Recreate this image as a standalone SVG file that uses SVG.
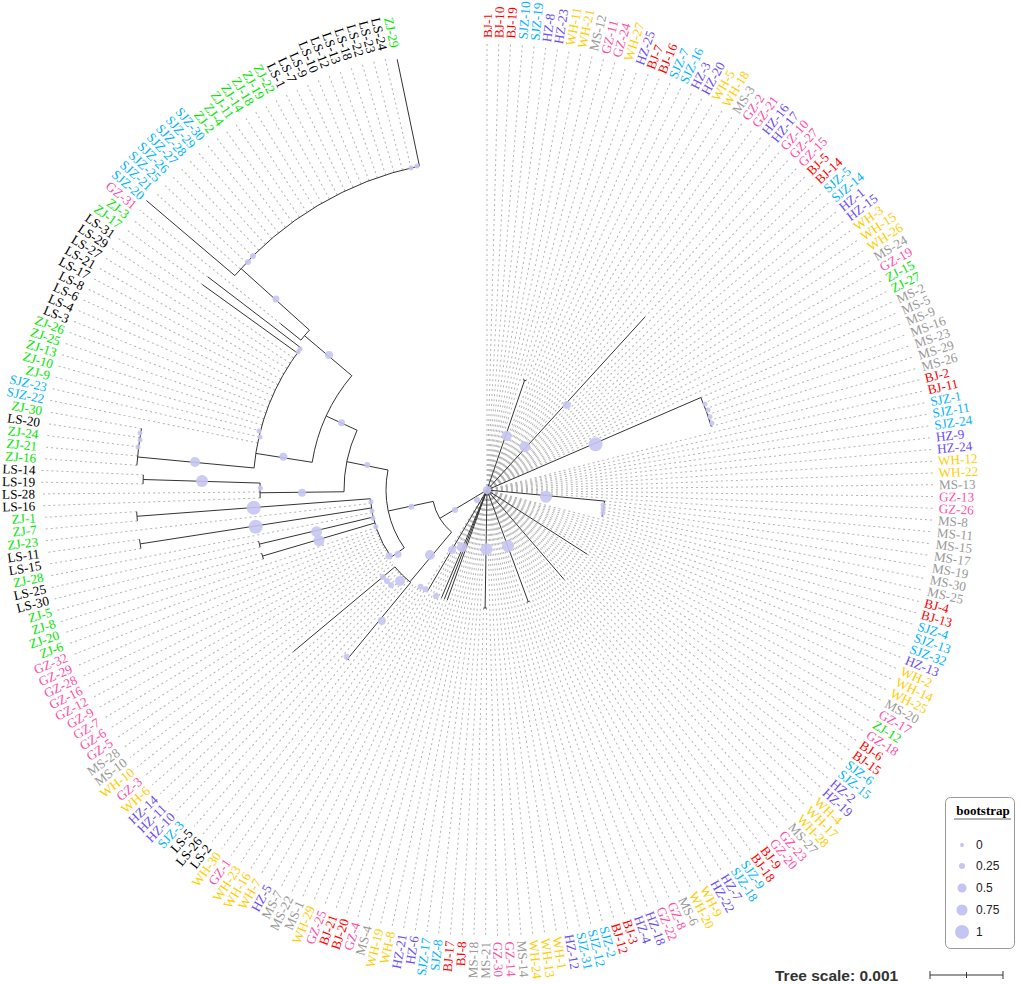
<svg xmlns="http://www.w3.org/2000/svg" width="1021" height="984" viewBox="0 0 1021 984">
<style>
text{font-family:"Liberation Serif","Times New Roman",serif;font-size:13.2px;dominant-baseline:central}
.l{text-anchor:end}
.bj{fill:#ff0000}.sjz{fill:#00b4ff}.hz{fill:#6b4cf6}.wh{fill:#ffcc00}.ms{fill:#999999}.gz{fill:#ff4fa7}.zj{fill:#00e600}.ls{fill:#000000}
#dash line{stroke:#b4b4b4;stroke-width:1;stroke-dasharray:2 3}
#tree path{stroke:#333;stroke-width:1;fill:none}
#bootstrap circle{fill:#c5c5f3;fill-opacity:.9}
.lg{font-family:"Liberation Sans",Arial,sans-serif;font-size:12px;fill:#222;dominant-baseline:central}
</style>
<rect width="1021" height="984" fill="#fff"/>
<g id="connectors">
<g id="dash" transform="translate(487 490)">
<line x1="4" x2="446" transform="rotate(-90)"/><line x1="4" x2="446" transform="rotate(-88.486)"/><line x1="4" x2="446" transform="rotate(-86.972)"/><line x1="4" x2="446" transform="rotate(-85.458)"/><line x1="4" x2="446" transform="rotate(-83.944)"/><line x1="4" x2="446" transform="rotate(-82.43)"/><line x1="4" x2="446" transform="rotate(-80.916)"/><line x1="4" x2="446" transform="rotate(-79.402)"/><line x1="4" x2="446" transform="rotate(-77.888)"/><line x1="4" x2="446" transform="rotate(-76.374)"/><line x1="4" x2="446" transform="rotate(-74.86)"/><line x1="4" x2="446" transform="rotate(-73.346)"/>
<line x1="116" x2="446" transform="rotate(-71.832)"/><line x1="116" x2="446" transform="rotate(-70.318)"/>
<line x1="4" x2="446" transform="rotate(-68.804)"/><line x1="4" x2="446" transform="rotate(-67.29)"/><line x1="4" x2="446" transform="rotate(-65.776)"/><line x1="4" x2="446" transform="rotate(-64.262)"/><line x1="4" x2="446" transform="rotate(-62.748)"/><line x1="4" x2="446" transform="rotate(-61.234)"/><line x1="4" x2="446" transform="rotate(-59.72)"/><line x1="4" x2="446" transform="rotate(-58.206)"/><line x1="4" x2="446" transform="rotate(-56.692)"/><line x1="4" x2="446" transform="rotate(-55.178)"/><line x1="4" x2="446" transform="rotate(-53.664)"/><line x1="4" x2="446" transform="rotate(-52.15)"/><line x1="4" x2="446" transform="rotate(-50.636)"/><line x1="4" x2="446" transform="rotate(-49.122)"/>
<line x1="234" x2="446" transform="rotate(-47.608)"/>
<line x1="4" x2="446" transform="rotate(-46.094)"/><line x1="4" x2="446" transform="rotate(-44.58)"/><line x1="4" x2="446" transform="rotate(-43.066)"/><line x1="4" x2="446" transform="rotate(-41.552)"/><line x1="4" x2="446" transform="rotate(-40.038)"/><line x1="4" x2="446" transform="rotate(-38.524)"/><line x1="4" x2="446" transform="rotate(-37.01)"/><line x1="4" x2="446" transform="rotate(-35.496)"/><line x1="4" x2="446" transform="rotate(-33.982)"/><line x1="4" x2="446" transform="rotate(-32.468)"/><line x1="4" x2="446" transform="rotate(-30.954)"/><line x1="4" x2="446" transform="rotate(-29.44)"/><line x1="4" x2="446" transform="rotate(-27.926)"/><line x1="4" x2="446" transform="rotate(-26.412)"/><line x1="4" x2="446" transform="rotate(-24.898)"/>
<line x1="233" x2="446" transform="rotate(-23.384)"/><line x1="233" x2="446" transform="rotate(-21.87)"/><line x1="233" x2="446" transform="rotate(-20.356)"/><line x1="233" x2="446" transform="rotate(-18.842)"/><line x1="233" x2="446" transform="rotate(-17.328)"/><line x1="233" x2="446" transform="rotate(-15.814)"/>
<line x1="4" x2="446" transform="rotate(-14.3)"/><line x1="4" x2="446" transform="rotate(-12.786)"/><line x1="4" x2="446" transform="rotate(-11.272)"/><line x1="4" x2="446" transform="rotate(-9.758)"/><line x1="4" x2="446" transform="rotate(-8.244)"/><line x1="4" x2="446" transform="rotate(-6.73)"/><line x1="4" x2="446" transform="rotate(-5.216)"/><line x1="4" x2="446" transform="rotate(-3.702)"/><line x1="4" x2="446" transform="rotate(-2.188)"/><line x1="4" x2="446" transform="rotate(-0.674)"/><line x1="4" x2="446" transform="rotate(0.84)"/><line x1="4" x2="446" transform="rotate(2.354)"/><line x1="4" x2="446" transform="rotate(3.868)"/>
<line x1="118" x2="446" transform="rotate(5.382)"/><line x1="118" x2="446" transform="rotate(6.896)"/><line x1="118" x2="446" transform="rotate(8.41)"/><line x1="118" x2="446" transform="rotate(9.924)"/><line x1="118" x2="446" transform="rotate(11.438)"/><line x1="118" x2="446" transform="rotate(12.952)"/>
<line x1="4" x2="446" transform="rotate(14.466)"/><line x1="4" x2="446" transform="rotate(15.98)"/><line x1="4" x2="446" transform="rotate(17.494)"/><line x1="4" x2="446" transform="rotate(19.008)"/><line x1="4" x2="446" transform="rotate(20.522)"/><line x1="4" x2="446" transform="rotate(22.036)"/><line x1="4" x2="446" transform="rotate(23.55)"/><line x1="4" x2="446" transform="rotate(25.064)"/><line x1="4" x2="446" transform="rotate(26.578)"/><line x1="4" x2="446" transform="rotate(28.092)"/><line x1="4" x2="446" transform="rotate(29.606)"/><line x1="4" x2="446" transform="rotate(31.12)"/>
<line x1="119" x2="446" transform="rotate(32.634)"/>
<line x1="4" x2="446" transform="rotate(34.148)"/><line x1="4" x2="446" transform="rotate(35.662)"/><line x1="4" x2="446" transform="rotate(37.176)"/><line x1="4" x2="446" transform="rotate(38.69)"/><line x1="4" x2="446" transform="rotate(40.204)"/><line x1="4" x2="446" transform="rotate(41.718)"/><line x1="4" x2="446" transform="rotate(43.232)"/><line x1="4" x2="446" transform="rotate(44.746)"/><line x1="4" x2="446" transform="rotate(46.26)"/><line x1="4" x2="446" transform="rotate(47.774)"/>
<line x1="118" x2="446" transform="rotate(49.288)"/>
<line x1="4" x2="446" transform="rotate(50.802)"/><line x1="4" x2="446" transform="rotate(52.316)"/><line x1="4" x2="446" transform="rotate(53.83)"/><line x1="4" x2="446" transform="rotate(55.344)"/><line x1="4" x2="446" transform="rotate(56.858)"/><line x1="4" x2="446" transform="rotate(58.372)"/><line x1="4" x2="446" transform="rotate(59.886)"/><line x1="4" x2="446" transform="rotate(61.4)"/><line x1="4" x2="446" transform="rotate(62.914)"/><line x1="4" x2="446" transform="rotate(64.428)"/><line x1="4" x2="446" transform="rotate(65.942)"/><line x1="4" x2="446" transform="rotate(67.456)"/>
<line x1="119" x2="446" transform="rotate(68.97)"/><line x1="119" x2="446" transform="rotate(70.484)"/>
<line x1="4" x2="446" transform="rotate(71.998)"/><line x1="4" x2="446" transform="rotate(73.512)"/><line x1="4" x2="446" transform="rotate(75.026)"/><line x1="4" x2="446" transform="rotate(76.54)"/><line x1="4" x2="446" transform="rotate(78.054)"/><line x1="4" x2="446" transform="rotate(79.568)"/><line x1="4" x2="446" transform="rotate(81.082)"/><line x1="4" x2="446" transform="rotate(82.596)"/><line x1="4" x2="446" transform="rotate(84.11)"/><line x1="4" x2="446" transform="rotate(85.624)"/><line x1="4" x2="446" transform="rotate(87.138)"/><line x1="4" x2="446" transform="rotate(88.652)"/>
<line x1="118" x2="446" transform="rotate(90.166)"/><line x1="118" x2="446" transform="rotate(91.68)"/>
<line x1="4" x2="446" transform="rotate(93.194)"/><line x1="4" x2="446" transform="rotate(94.708)"/><line x1="4" x2="446" transform="rotate(96.222)"/><line x1="4" x2="446" transform="rotate(97.736)"/><line x1="4" x2="446" transform="rotate(99.25)"/><line x1="4" x2="446" transform="rotate(100.764)"/><line x1="4" x2="446" transform="rotate(102.278)"/><line x1="4" x2="446" transform="rotate(103.792)"/><line x1="4" x2="446" transform="rotate(105.306)"/><line x1="4" x2="446" transform="rotate(106.82)"/><line x1="4" x2="446" transform="rotate(108.334)"/>
<line x1="117" x2="446" transform="rotate(109.848)"/><line x1="117" x2="446" transform="rotate(111.362)"/><line x1="117" x2="446" transform="rotate(112.876)"/>
<line x1="4" x2="446" transform="rotate(114.39)"/><line x1="4" x2="446" transform="rotate(115.904)"/><line x1="4" x2="446" transform="rotate(117.418)"/><line x1="4" x2="446" transform="rotate(118.932)"/>
<line x1="117" x2="446" transform="rotate(120.446)"/>
<line x1="4" x2="446" transform="rotate(121.96)"/>
<line x1="120" x2="446" transform="rotate(123.474)"/><line x1="120" x2="446" transform="rotate(124.988)"/><line x1="120" x2="446" transform="rotate(126.502)"/><line x1="120" x2="446" transform="rotate(128.016)"/>
<line x1="219" x2="446" transform="rotate(129.53)"/>
<line x1="120" x2="446" transform="rotate(131.044)"/><line x1="120" x2="446" transform="rotate(132.558)"/><line x1="120" x2="446" transform="rotate(134.072)"/><line x1="120" x2="446" transform="rotate(135.586)"/><line x1="120" x2="446" transform="rotate(137.1)"/><line x1="120" x2="446" transform="rotate(138.614)"/>
<line x1="252" x2="446" transform="rotate(140.128)"/>
<line x1="120" x2="446" transform="rotate(141.642)"/><line x1="120" x2="446" transform="rotate(143.156)"/>
<line x1="117" x2="446" transform="rotate(144.67)"/><line x1="117" x2="446" transform="rotate(146.184)"/><line x1="117" x2="446" transform="rotate(147.698)"/><line x1="117" x2="446" transform="rotate(149.212)"/><line x1="117" x2="446" transform="rotate(150.726)"/><line x1="117" x2="446" transform="rotate(152.24)"/><line x1="117" x2="446" transform="rotate(153.754)"/><line x1="117" x2="446" transform="rotate(155.268)"/><line x1="117" x2="446" transform="rotate(156.782)"/><line x1="117" x2="446" transform="rotate(158.296)"/><line x1="117" x2="446" transform="rotate(159.81)"/><line x1="117" x2="446" transform="rotate(161.324)"/>
<line x1="234" x2="446" transform="rotate(162.838)"/><line x1="234" x2="446" transform="rotate(164.352)"/><line x1="234" x2="446" transform="rotate(165.866)"/><line x1="234" x2="446" transform="rotate(167.38)"/>
<line x1="117" x2="446" transform="rotate(168.894)"/>
<line x1="351" x2="446" transform="rotate(170.408)"/><line x1="351" x2="446" transform="rotate(171.922)"/>
<line x1="117" x2="446" transform="rotate(173.436)"/>
<line x1="351" x2="446" transform="rotate(174.95)"/><line x1="351" x2="446" transform="rotate(176.464)"/>
<line x1="227" x2="446" transform="rotate(177.978)"/><line x1="227" x2="446" transform="rotate(179.492)"/>
<line x1="344" x2="446" transform="rotate(181.006)"/><line x1="344" x2="446" transform="rotate(182.52)"/>
<line x1="351" x2="446" transform="rotate(184.034)"/><line x1="351" x2="446" transform="rotate(185.548)"/><line x1="351" x2="446" transform="rotate(187.062)"/><line x1="351" x2="446" transform="rotate(188.576)"/><line x1="351" x2="446" transform="rotate(190.09)"/>
<line x1="234" x2="446" transform="rotate(191.604)"/><line x1="234" x2="446" transform="rotate(193.118)"/><line x1="234" x2="446" transform="rotate(194.632)"/><line x1="234" x2="446" transform="rotate(196.146)"/><line x1="234" x2="446" transform="rotate(197.66)"/><line x1="234" x2="446" transform="rotate(199.174)"/><line x1="234" x2="446" transform="rotate(200.688)"/><line x1="234" x2="446" transform="rotate(202.202)"/><line x1="234" x2="446" transform="rotate(203.716)"/><line x1="234" x2="446" transform="rotate(205.23)"/><line x1="234" x2="446" transform="rotate(206.744)"/><line x1="234" x2="446" transform="rotate(208.258)"/><line x1="234" x2="446" transform="rotate(209.772)"/><line x1="234" x2="446" transform="rotate(211.286)"/><line x1="234" x2="446" transform="rotate(212.8)"/><line x1="234" x2="446" transform="rotate(214.314)"/>
<line x1="351" x2="446" transform="rotate(215.828)"/><line x1="351" x2="446" transform="rotate(217.342)"/>
<line x1="265" x2="446" transform="rotate(218.856)"/>
<line x1="331" x2="446" transform="rotate(221.884)"/><line x1="331" x2="446" transform="rotate(223.398)"/><line x1="331" x2="446" transform="rotate(224.912)"/><line x1="331" x2="446" transform="rotate(226.426)"/><line x1="331" x2="446" transform="rotate(227.94)"/><line x1="331" x2="446" transform="rotate(229.454)"/><line x1="331" x2="446" transform="rotate(230.968)"/><line x1="331" x2="446" transform="rotate(232.482)"/><line x1="331" x2="446" transform="rotate(233.996)"/><line x1="331" x2="446" transform="rotate(235.51)"/><line x1="331" x2="446" transform="rotate(237.024)"/><line x1="331" x2="446" transform="rotate(238.538)"/><line x1="331" x2="446" transform="rotate(240.052)"/><line x1="331" x2="446" transform="rotate(241.566)"/><line x1="331" x2="446" transform="rotate(243.08)"/><line x1="331" x2="446" transform="rotate(244.594)"/><line x1="331" x2="446" transform="rotate(246.108)"/><line x1="331" x2="446" transform="rotate(247.622)"/><line x1="331" x2="446" transform="rotate(249.136)"/><line x1="331" x2="446" transform="rotate(250.65)"/><line x1="331" x2="446" transform="rotate(252.164)"/><line x1="331" x2="446" transform="rotate(253.678)"/><line x1="331" x2="446" transform="rotate(255.192)"/><line x1="331" x2="446" transform="rotate(256.706)"/>
</g>
<g id="tree" transform="translate(487 490)">
<path d="M0 0L157.8 -172.8M0 0L37.62 -109.74M36.17 -110.21A116 116 0 0 1 39.07 -109.23M0 0L213.87 -92.48A233 233 0 0 1 224.19 -63.49M0 0L117.48 11.07A118 118 0 0 1 115 26.45M0 0L100.2 64.2M0 0L77 89.4M0 0L41.2 111.6M42.7 111.1A119 119 0 0 1 39.8 112.2M0 0L-1.9 118M-0.34 118A118 118 0 0 1 -3.46 117.95M0 0L-39.7 110M0 0L-42.6 109M0 0L-45.5 107.8M0 0L-59.3 100.9"/>
<path d="M0 0L-47.1 28.3M-35.4 42.1A55 55 0 0 1 -53.8 11.4M-53.8 11.4L-98.8 21M-82.7 57.9A101 101 0 0 1 -99 -20M-99 -20L-140.2 -28.3M-143 1.75A143 143 0 0 1 -129.9 -59.8M-143 1.75L-227 2.77M-226.86 8.01A227 227 0 0 1 -226.9 -6.93M-226.9 -6.93L-343.84 -10.5M-343.95 -6.04A344 344 0 0 1 -343.67 -15.13M-129.9 -59.8L-160.8 -73.96M-174.8 -27.7A177 177 0 0 1 -135.2 -114.3M-174.8 -27.7L-231.1 -36.6M-232.96 -22.02A234 234 0 0 1 -185.98 -141.99M-232.96 -22.02L-349.44 -33.03M-350.13 -24.69A351 351 0 0 1 -345.57 -61.49M-189.7 -137L-284.6 -205.4M-185.98 -141.99L-278.97 -212.99M-135.2 -114.3L-182.5 -154.3M-186.1 -149.9A239 239 0 0 1 -177.6 -159.9M-186.1 -149.9L-206.4 -166.2M-177.6 -159.9L-246 -221.5M-252.2 -214.4A331 331 0 0 1 -67.6 -324M-252.2 -214.4L-340.6 -289.5M-67.6 -324L-89.8 -430.7"/>
<path d="M-82.7 57.9L-95.8 67.1A117 117 0 0 1 -116.67 8.76M-116.67 8.76L-350 26.28M-349.64 30.9A351 351 0 0 1 -350.33 21.65M-115.6 17.97L-346.83 53.9M-346.09 58.49A351 351 0 0 1 -347.51 49.32M-113.83 27.07L-227.66 54.14M-226.92 57.14A234 234 0 0 1 -228.35 51.13M-112.24 33.04L-224.47 66.08M-223.58 69.04A234 234 0 0 1 -225.33 63.12M-35.4 42.1L-77.1 91.9M-76.4 92.5A120 120 0 0 1 -92.1 76.9M-76.4 92.5L-139.4 168.9M-137.8 170.2L-141.1 167.5M-92.1 76.9L-193.5 161.5"/>
</g>
</g>
<g id="bootstrap">
<circle cx="411" cy="168" r="2.5"/><circle cx="417" cy="166" r="2.5"/><circle cx="248" cy="262" r="3"/><circle cx="253" cy="256" r="3"/><circle cx="276" cy="299" r="3.5"/><circle cx="329" cy="355" r="4"/><circle cx="298" cy="352" r="2.5"/><circle cx="300" cy="349" r="2.5"/><circle cx="341.5" cy="422.7" r="3.5"/><circle cx="283.4" cy="456.7" r="4"/><circle cx="260" cy="437" r="2.5"/><circle cx="259" cy="431" r="2.5"/><circle cx="195" cy="462" r="5"/><circle cx="202" cy="481" r="6"/><circle cx="260.4" cy="488" r="2.5"/><circle cx="302" cy="492.7" r="4"/><circle cx="253.7" cy="507.7" r="7"/><circle cx="255.7" cy="526.7" r="7"/><circle cx="316.6" cy="531.7" r="5.5"/><circle cx="319" cy="540.7" r="5.5"/><circle cx="371" cy="501.7" r="2.5"/><circle cx="372" cy="511" r="2.5"/><circle cx="373" cy="518.3" r="2.5"/><circle cx="375.8" cy="526.7" r="2.5"/><circle cx="389" cy="556" r="3.5"/><circle cx="398" cy="554.3" r="3.5"/><circle cx="367.3" cy="465" r="3"/><circle cx="411.4" cy="506.7" r="3"/><circle cx="455" cy="510" r="3"/><circle cx="477" cy="500" r="3"/><circle cx="487" cy="490" r="4"/><circle cx="430" cy="555" r="5"/><circle cx="452" cy="550" r="4"/><circle cx="462" cy="547.3" r="5"/><circle cx="486.5" cy="549.3" r="6"/><circle cx="508" cy="546" r="6"/><circle cx="381.8" cy="620.7" r="4"/><circle cx="346.6" cy="656.7" r="3"/><circle cx="383" cy="577" r="3"/><circle cx="387" cy="581" r="3"/><circle cx="391" cy="585" r="3"/><circle cx="400" cy="581" r="5"/><circle cx="420.5" cy="586.7" r="3"/><circle cx="425.6" cy="589.3" r="3"/><circle cx="436" cy="596" r="3"/><circle cx="566.8" cy="405" r="4"/><circle cx="506.7" cy="436" r="5"/><circle cx="525" cy="446.7" r="5.5"/><circle cx="595.6" cy="444.3" r="7"/><circle cx="546" cy="496.7" r="6"/><circle cx="705" cy="404" r="2.5"/><circle cx="708" cy="410" r="2.5"/><circle cx="710" cy="416.7" r="2.5"/><circle cx="712" cy="423" r="2.5"/><circle cx="603" cy="505" r="2.5"/><circle cx="603" cy="509" r="2.5"/><circle cx="603" cy="513" r="2.5"/><circle cx="140" cy="433" r="2.5"/><circle cx="140" cy="440" r="2.5"/><circle cx="138" cy="447" r="2.5"/>
</g>
<g id="labels" transform="translate(487 490)">
<g id="n-BJ-1" transform="rotate(-90)"><text class="bj" x="452">BJ-1</text></g>
<g id="n-BJ-10" transform="rotate(-88.486)"><text class="bj" x="452">BJ-10</text></g>
<g id="n-BJ-19" transform="rotate(-86.972)"><text class="bj" x="452">BJ-19</text></g>
<g id="n-SJZ-10" transform="rotate(-85.458)"><text class="sjz" x="452">SJZ-10</text></g>
<g id="n-SJZ-19" transform="rotate(-83.944)"><text class="sjz" x="452">SJZ-19</text></g>
<g id="n-HZ-8" transform="rotate(-82.43)"><text class="hz" x="452">HZ-8</text></g>
<g id="n-HZ-23" transform="rotate(-80.916)"><text class="hz" x="452">HZ-23</text></g>
<g id="n-WH-11" transform="rotate(-79.402)"><text class="wh" x="452">WH-11</text></g>
<g id="n-WH-21" transform="rotate(-77.888)"><text class="wh" x="452">WH-21</text></g>
<g id="n-MS-12" transform="rotate(-76.374)"><text class="ms" x="452">MS-12</text></g>
<g id="n-GZ-11" transform="rotate(-74.86)"><text class="gz" x="452">GZ-11</text></g>
<g id="n-GZ-24" transform="rotate(-73.346)"><text class="gz" x="452">GZ-24</text></g>
<g id="n-WH-27" transform="rotate(-71.832)"><text class="wh" x="452">WH-27</text></g>
<g id="n-HZ-25" transform="rotate(-70.318)"><text class="hz" x="452">HZ-25</text></g>
<g id="n-BJ-7" transform="rotate(-68.804)"><text class="bj" x="452">BJ-7</text></g>
<g id="n-BJ-16" transform="rotate(-67.29)"><text class="bj" x="452">BJ-16</text></g>
<g id="n-SJZ-7" transform="rotate(-65.776)"><text class="sjz" x="452">SJZ-7</text></g>
<g id="n-SJZ-16" transform="rotate(-64.262)"><text class="sjz" x="452">SJZ-16</text></g>
<g id="n-HZ-3" transform="rotate(-62.748)"><text class="hz" x="452">HZ-3</text></g>
<g id="n-HZ-20" transform="rotate(-61.234)"><text class="hz" x="452">HZ-20</text></g>
<g id="n-WH-5" transform="rotate(-59.72)"><text class="wh" x="452">WH-5</text></g>
<g id="n-WH-18" transform="rotate(-58.206)"><text class="wh" x="452">WH-18</text></g>
<g id="n-MS-3" transform="rotate(-56.692)"><text class="ms" x="452">MS-3</text></g>
<g id="n-GZ-2" transform="rotate(-55.178)"><text class="gz" x="452">GZ-2</text></g>
<g id="n-GZ-21" transform="rotate(-53.664)"><text class="gz" x="452">GZ-21</text></g>
<g id="n-HZ-16" transform="rotate(-52.15)"><text class="hz" x="452">HZ-16</text></g>
<g id="n-HZ-17" transform="rotate(-50.636)"><text class="hz" x="452">HZ-17</text></g>
<g id="n-GZ-10" transform="rotate(-49.122)"><text class="gz" x="452">GZ-10</text></g>
<g id="n-GZ-27" transform="rotate(-47.608)"><text class="gz" x="452">GZ-27</text></g>
<g id="n-GZ-15" transform="rotate(-46.094)"><text class="gz" x="452">GZ-15</text></g>
<g id="n-BJ-5" transform="rotate(-44.58)"><text class="bj" x="452">BJ-5</text></g>
<g id="n-BJ-14" transform="rotate(-43.066)"><text class="bj" x="452">BJ-14</text></g>
<g id="n-SJZ-5" transform="rotate(-41.552)"><text class="sjz" x="452">SJZ-5</text></g>
<g id="n-SJZ-14" transform="rotate(-40.038)"><text class="sjz" x="452">SJZ-14</text></g>
<g id="n-HZ-1" transform="rotate(-38.524)"><text class="hz" x="452">HZ-1</text></g>
<g id="n-HZ-15" transform="rotate(-37.01)"><text class="hz" x="452">HZ-15</text></g>
<g id="n-WH-3" transform="rotate(-35.496)"><text class="wh" x="452">WH-3</text></g>
<g id="n-WH-15" transform="rotate(-33.982)"><text class="wh" x="452">WH-15</text></g>
<g id="n-WH-26" transform="rotate(-32.468)"><text class="wh" x="452">WH-26</text></g>
<g id="n-MS-24" transform="rotate(-30.954)"><text class="ms" x="452">MS-24</text></g>
<g id="n-GZ-19" transform="rotate(-29.44)"><text class="gz" x="452">GZ-19</text></g>
<g id="n-ZJ-15" transform="rotate(-27.926)"><text class="zj" x="452">ZJ-15</text></g>
<g id="n-ZJ-27" transform="rotate(-26.412)"><text class="zj" x="452">ZJ-27</text></g>
<g id="n-MS-2" transform="rotate(-24.898)"><text class="ms" x="452">MS-2</text></g>
<g id="n-MS-5" transform="rotate(-23.384)"><text class="ms" x="452">MS-5</text></g>
<g id="n-MS-9" transform="rotate(-21.87)"><text class="ms" x="452">MS-9</text></g>
<g id="n-MS-16" transform="rotate(-20.356)"><text class="ms" x="452">MS-16</text></g>
<g id="n-MS-23" transform="rotate(-18.842)"><text class="ms" x="452">MS-23</text></g>
<g id="n-MS-29" transform="rotate(-17.328)"><text class="ms" x="452">MS-29</text></g>
<g id="n-MS-26" transform="rotate(-15.814)"><text class="ms" x="452">MS-26</text></g>
<g id="n-BJ-2" transform="rotate(-14.3)"><text class="bj" x="452">BJ-2</text></g>
<g id="n-BJ-11" transform="rotate(-12.786)"><text class="bj" x="452">BJ-11</text></g>
<g id="n-SJZ-1" transform="rotate(-11.272)"><text class="sjz" x="452">SJZ-1</text></g>
<g id="n-SJZ-11" transform="rotate(-9.758)"><text class="sjz" x="452">SJZ-11</text></g>
<g id="n-SJZ-24" transform="rotate(-8.244)"><text class="sjz" x="452">SJZ-24</text></g>
<g id="n-HZ-9" transform="rotate(-6.73)"><text class="hz" x="452">HZ-9</text></g>
<g id="n-HZ-24" transform="rotate(-5.216)"><text class="hz" x="452">HZ-24</text></g>
<g id="n-WH-12" transform="rotate(-3.702)"><text class="wh" x="452">WH-12</text></g>
<g id="n-WH-22" transform="rotate(-2.188)"><text class="wh" x="452">WH-22</text></g>
<g id="n-MS-13" transform="rotate(-0.674)"><text class="ms" x="452">MS-13</text></g>
<g id="n-GZ-13" transform="rotate(0.84)"><text class="gz" x="452">GZ-13</text></g>
<g id="n-GZ-26" transform="rotate(2.354)"><text class="gz" x="452">GZ-26</text></g>
<g id="n-MS-8" transform="rotate(3.868)"><text class="ms" x="452">MS-8</text></g>
<g id="n-MS-11" transform="rotate(5.382)"><text class="ms" x="452">MS-11</text></g>
<g id="n-MS-15" transform="rotate(6.896)"><text class="ms" x="452">MS-15</text></g>
<g id="n-MS-17" transform="rotate(8.41)"><text class="ms" x="452">MS-17</text></g>
<g id="n-MS-19" transform="rotate(9.924)"><text class="ms" x="452">MS-19</text></g>
<g id="n-MS-30" transform="rotate(11.438)"><text class="ms" x="452">MS-30</text></g>
<g id="n-MS-25" transform="rotate(12.952)"><text class="ms" x="452">MS-25</text></g>
<g id="n-BJ-4" transform="rotate(14.466)"><text class="bj" x="452">BJ-4</text></g>
<g id="n-BJ-13" transform="rotate(15.98)"><text class="bj" x="452">BJ-13</text></g>
<g id="n-SJZ-4" transform="rotate(17.494)"><text class="sjz" x="452">SJZ-4</text></g>
<g id="n-SJZ-13" transform="rotate(19.008)"><text class="sjz" x="452">SJZ-13</text></g>
<g id="n-SJZ-32" transform="rotate(20.522)"><text class="sjz" x="452">SJZ-32</text></g>
<g id="n-HZ-13" transform="rotate(22.036)"><text class="hz" x="452">HZ-13</text></g>
<g id="n-WH-2" transform="rotate(23.55)"><text class="wh" x="452">WH-2</text></g>
<g id="n-WH-14" transform="rotate(25.064)"><text class="wh" x="452">WH-14</text></g>
<g id="n-WH-25" transform="rotate(26.578)"><text class="wh" x="452">WH-25</text></g>
<g id="n-MS-20" transform="rotate(28.092)"><text class="ms" x="452">MS-20</text></g>
<g id="n-GZ-17" transform="rotate(29.606)"><text class="gz" x="452">GZ-17</text></g>
<g id="n-ZJ-12" transform="rotate(31.12)"><text class="zj" x="452">ZJ-12</text></g>
<g id="n-GZ-18" transform="rotate(32.634)"><text class="gz" x="452">GZ-18</text></g>
<g id="n-BJ-6" transform="rotate(34.148)"><text class="bj" x="452">BJ-6</text></g>
<g id="n-BJ-15" transform="rotate(35.662)"><text class="bj" x="452">BJ-15</text></g>
<g id="n-SJZ-6" transform="rotate(37.176)"><text class="sjz" x="452">SJZ-6</text></g>
<g id="n-SJZ-15" transform="rotate(38.69)"><text class="sjz" x="452">SJZ-15</text></g>
<g id="n-HZ-2" transform="rotate(40.204)"><text class="hz" x="452">HZ-2</text></g>
<g id="n-HZ-19" transform="rotate(41.718)"><text class="hz" x="452">HZ-19</text></g>
<g id="n-WH-4" transform="rotate(43.232)"><text class="wh" x="452">WH-4</text></g>
<g id="n-WH-17" transform="rotate(44.746)"><text class="wh" x="452">WH-17</text></g>
<g id="n-WH-28" transform="rotate(46.26)"><text class="wh" x="452">WH-28</text></g>
<g id="n-MS-27" transform="rotate(47.774)"><text class="ms" x="452">MS-27</text></g>
<g id="n-GZ-23" transform="rotate(49.288)"><text class="gz" x="452">GZ-23</text></g>
<g id="n-GZ-20" transform="rotate(50.802)"><text class="gz" x="452">GZ-20</text></g>
<g id="n-BJ-9" transform="rotate(52.316)"><text class="bj" x="452">BJ-9</text></g>
<g id="n-BJ-18" transform="rotate(53.83)"><text class="bj" x="452">BJ-18</text></g>
<g id="n-SJZ-9" transform="rotate(55.344)"><text class="sjz" x="452">SJZ-9</text></g>
<g id="n-SJZ-18" transform="rotate(56.858)"><text class="sjz" x="452">SJZ-18</text></g>
<g id="n-HZ-7" transform="rotate(58.372)"><text class="hz" x="452">HZ-7</text></g>
<g id="n-HZ-22" transform="rotate(59.886)"><text class="hz" x="452">HZ-22</text></g>
<g id="n-WH-9" transform="rotate(61.4)"><text class="wh" x="452">WH-9</text></g>
<g id="n-WH-20" transform="rotate(62.914)"><text class="wh" x="452">WH-20</text></g>
<g id="n-MS-6" transform="rotate(64.428)"><text class="ms" x="452">MS-6</text></g>
<g id="n-GZ-8" transform="rotate(65.942)"><text class="gz" x="452">GZ-8</text></g>
<g id="n-GZ-22" transform="rotate(67.456)"><text class="gz" x="452">GZ-22</text></g>
<g id="n-HZ-18" transform="rotate(68.97)"><text class="hz" x="452">HZ-18</text></g>
<g id="n-HZ-4" transform="rotate(70.484)"><text class="hz" x="452">HZ-4</text></g>
<g id="n-BJ-3" transform="rotate(71.998)"><text class="bj" x="452">BJ-3</text></g>
<g id="n-BJ-12" transform="rotate(73.512)"><text class="bj" x="452">BJ-12</text></g>
<g id="n-SJZ-2" transform="rotate(75.026)"><text class="sjz" x="452">SJZ-2</text></g>
<g id="n-SJZ-12" transform="rotate(76.54)"><text class="sjz" x="452">SJZ-12</text></g>
<g id="n-SJZ-31" transform="rotate(78.054)"><text class="sjz" x="452">SJZ-31</text></g>
<g id="n-HZ-12" transform="rotate(79.568)"><text class="hz" x="452">HZ-12</text></g>
<g id="n-WH-1" transform="rotate(81.082)"><text class="wh" x="452">WH-1</text></g>
<g id="n-WH-13" transform="rotate(82.596)"><text class="wh" x="452">WH-13</text></g>
<g id="n-WH-24" transform="rotate(84.11)"><text class="wh" x="452">WH-24</text></g>
<g id="n-MS-14" transform="rotate(85.624)"><text class="ms" x="452">MS-14</text></g>
<g id="n-GZ-14" transform="rotate(87.138)"><text class="gz" x="452">GZ-14</text></g>
<g id="n-GZ-30" transform="rotate(88.652)"><text class="gz" x="452">GZ-30</text></g>
<g id="n-MS-21" transform="rotate(-89.834)"><text class="ms l" x="-452">MS-21</text></g>
<g id="n-MS-18" transform="rotate(-88.32)"><text class="ms l" x="-452">MS-18</text></g>
<g id="n-BJ-8" transform="rotate(-86.806)"><text class="bj l" x="-452">BJ-8</text></g>
<g id="n-BJ-17" transform="rotate(-85.292)"><text class="bj l" x="-452">BJ-17</text></g>
<g id="n-SJZ-8" transform="rotate(-83.778)"><text class="sjz l" x="-452">SJZ-8</text></g>
<g id="n-SJZ-17" transform="rotate(-82.264)"><text class="sjz l" x="-452">SJZ-17</text></g>
<g id="n-HZ-6" transform="rotate(-80.75)"><text class="hz l" x="-452">HZ-6</text></g>
<g id="n-HZ-21" transform="rotate(-79.236)"><text class="hz l" x="-452">HZ-21</text></g>
<g id="n-WH-8" transform="rotate(-77.722)"><text class="wh l" x="-452">WH-8</text></g>
<g id="n-WH-19" transform="rotate(-76.208)"><text class="wh l" x="-452">WH-19</text></g>
<g id="n-MS-4" transform="rotate(-74.694)"><text class="ms l" x="-452">MS-4</text></g>
<g id="n-GZ-4" transform="rotate(-73.18)"><text class="gz l" x="-452">GZ-4</text></g>
<g id="n-BJ-20" transform="rotate(-71.666)"><text class="bj l" x="-452">BJ-20</text></g>
<g id="n-BJ-21" transform="rotate(-70.152)"><text class="bj l" x="-452">BJ-21</text></g>
<g id="n-GZ-25" transform="rotate(-68.638)"><text class="gz l" x="-452">GZ-25</text></g>
<g id="n-WH-29" transform="rotate(-67.124)"><text class="wh l" x="-452">WH-29</text></g>
<g id="n-MS-1" transform="rotate(-65.61)"><text class="ms l" x="-452">MS-1</text></g>
<g id="n-MS-22" transform="rotate(-64.096)"><text class="ms l" x="-452">MS-22</text></g>
<g id="n-MS-7" transform="rotate(-62.582)"><text class="ms l" x="-452">MS-7</text></g>
<g id="n-HZ-5" transform="rotate(-61.068)"><text class="hz l" x="-452">HZ-5</text></g>
<g id="n-WH-7" transform="rotate(-59.554)"><text class="wh l" x="-452">WH-7</text></g>
<g id="n-WH-16" transform="rotate(-58.04)"><text class="wh l" x="-452">WH-16</text></g>
<g id="n-WH-23" transform="rotate(-56.526)"><text class="wh l" x="-452">WH-23</text></g>
<g id="n-GZ-1" transform="rotate(-55.012)"><text class="gz l" x="-452">GZ-1</text></g>
<g id="n-WH-30" transform="rotate(-53.498)"><text class="wh l" x="-452">WH-30</text></g>
<g id="n-LS-2" transform="rotate(-51.984)"><text class="ls l" x="-452">LS-2</text></g>
<g id="n-LS-26" transform="rotate(-50.47)"><text class="ls l" x="-452">LS-26</text></g>
<g id="n-LS-5" transform="rotate(-48.956)"><text class="ls l" x="-452">LS-5</text></g>
<g id="n-SJZ-3" transform="rotate(-47.442)"><text class="sjz l" x="-452">SJZ-3</text></g>
<g id="n-HZ-10" transform="rotate(-45.928)"><text class="hz l" x="-452">HZ-10</text></g>
<g id="n-HZ-11" transform="rotate(-44.414)"><text class="hz l" x="-452">HZ-11</text></g>
<g id="n-HZ-14" transform="rotate(-42.9)"><text class="hz l" x="-452">HZ-14</text></g>
<g id="n-WH-6" transform="rotate(-41.386)"><text class="wh l" x="-452">WH-6</text></g>
<g id="n-GZ-3" transform="rotate(-39.872)"><text class="gz l" x="-452">GZ-3</text></g>
<g id="n-WH-10" transform="rotate(-38.358)"><text class="wh l" x="-452">WH-10</text></g>
<g id="n-MS-10" transform="rotate(-36.844)"><text class="ms l" x="-452">MS-10</text></g>
<g id="n-MS-28" transform="rotate(-35.33)"><text class="ms l" x="-452">MS-28</text></g>
<g id="n-GZ-5" transform="rotate(-33.816)"><text class="gz l" x="-452">GZ-5</text></g>
<g id="n-GZ-6" transform="rotate(-32.302)"><text class="gz l" x="-452">GZ-6</text></g>
<g id="n-GZ-7" transform="rotate(-30.788)"><text class="gz l" x="-452">GZ-7</text></g>
<g id="n-GZ-9" transform="rotate(-29.274)"><text class="gz l" x="-452">GZ-9</text></g>
<g id="n-GZ-12" transform="rotate(-27.76)"><text class="gz l" x="-452">GZ-12</text></g>
<g id="n-GZ-16" transform="rotate(-26.246)"><text class="gz l" x="-452">GZ-16</text></g>
<g id="n-GZ-28" transform="rotate(-24.732)"><text class="gz l" x="-452">GZ-28</text></g>
<g id="n-GZ-29" transform="rotate(-23.218)"><text class="gz l" x="-452">GZ-29</text></g>
<g id="n-GZ-32" transform="rotate(-21.704)"><text class="gz l" x="-452">GZ-32</text></g>
<g id="n-ZJ-6" transform="rotate(-20.19)"><text class="zj l" x="-452">ZJ-6</text></g>
<g id="n-ZJ-20" transform="rotate(-18.676)"><text class="zj l" x="-452">ZJ-20</text></g>
<g id="n-ZJ-8" transform="rotate(-17.162)"><text class="zj l" x="-452">ZJ-8</text></g>
<g id="n-ZJ-5" transform="rotate(-15.648)"><text class="zj l" x="-452">ZJ-5</text></g>
<g id="n-LS-30" transform="rotate(-14.134)"><text class="ls l" x="-452">LS-30</text></g>
<g id="n-LS-25" transform="rotate(-12.62)"><text class="ls l" x="-452">LS-25</text></g>
<g id="n-ZJ-28" transform="rotate(-11.106)"><text class="zj l" x="-452">ZJ-28</text></g>
<g id="n-LS-15" transform="rotate(-9.592)"><text class="ls l" x="-452">LS-15</text></g>
<g id="n-LS-11" transform="rotate(-8.078)"><text class="ls l" x="-452">LS-11</text></g>
<g id="n-ZJ-23" transform="rotate(-6.564)"><text class="zj l" x="-452">ZJ-23</text></g>
<g id="n-ZJ-7" transform="rotate(-5.05)"><text class="zj l" x="-452">ZJ-7</text></g>
<g id="n-ZJ-1" transform="rotate(-3.536)"><text class="zj l" x="-452">ZJ-1</text></g>
<g id="n-LS-16" transform="rotate(-2.022)"><text class="ls l" x="-452">LS-16</text></g>
<g id="n-LS-28" transform="rotate(-0.508)"><text class="ls l" x="-452">LS-28</text></g>
<g id="n-LS-19" transform="rotate(1.006)"><text class="ls l" x="-452">LS-19</text></g>
<g id="n-LS-14" transform="rotate(2.52)"><text class="ls l" x="-452">LS-14</text></g>
<g id="n-ZJ-16" transform="rotate(4.034)"><text class="zj l" x="-452">ZJ-16</text></g>
<g id="n-ZJ-21" transform="rotate(5.548)"><text class="zj l" x="-452">ZJ-21</text></g>
<g id="n-ZJ-24" transform="rotate(7.062)"><text class="zj l" x="-452">ZJ-24</text></g>
<g id="n-LS-20" transform="rotate(8.576)"><text class="ls l" x="-452">LS-20</text></g>
<g id="n-ZJ-30" transform="rotate(10.09)"><text class="zj l" x="-452">ZJ-30</text></g>
<g id="n-SJZ-22" transform="rotate(11.604)"><text class="sjz l" x="-452">SJZ-22</text></g>
<g id="n-SJZ-23" transform="rotate(13.118)"><text class="sjz l" x="-452">SJZ-23</text></g>
<g id="n-ZJ-9" transform="rotate(14.632)"><text class="zj l" x="-452">ZJ-9</text></g>
<g id="n-ZJ-10" transform="rotate(16.146)"><text class="zj l" x="-452">ZJ-10</text></g>
<g id="n-ZJ-13" transform="rotate(17.66)"><text class="zj l" x="-452">ZJ-13</text></g>
<g id="n-ZJ-25" transform="rotate(19.174)"><text class="zj l" x="-452">ZJ-25</text></g>
<g id="n-ZJ-26" transform="rotate(20.688)"><text class="zj l" x="-452">ZJ-26</text></g>
<g id="n-LS-3" transform="rotate(22.202)"><text class="ls l" x="-452">LS-3</text></g>
<g id="n-LS-4" transform="rotate(23.716)"><text class="ls l" x="-452">LS-4</text></g>
<g id="n-LS-6" transform="rotate(25.23)"><text class="ls l" x="-452">LS-6</text></g>
<g id="n-LS-8" transform="rotate(26.744)"><text class="ls l" x="-452">LS-8</text></g>
<g id="n-LS-17" transform="rotate(28.258)"><text class="ls l" x="-452">LS-17</text></g>
<g id="n-LS-21" transform="rotate(29.772)"><text class="ls l" x="-452">LS-21</text></g>
<g id="n-LS-27" transform="rotate(31.286)"><text class="ls l" x="-452">LS-27</text></g>
<g id="n-LS-29" transform="rotate(32.8)"><text class="ls l" x="-452">LS-29</text></g>
<g id="n-LS-31" transform="rotate(34.314)"><text class="ls l" x="-452">LS-31</text></g>
<g id="n-ZJ-17" transform="rotate(35.828)"><text class="zj l" x="-452">ZJ-17</text></g>
<g id="n-ZJ-3" transform="rotate(37.342)"><text class="zj l" x="-452">ZJ-3</text></g>
<g id="n-GZ-31" transform="rotate(38.856)"><text class="gz l" x="-452">GZ-31</text></g>
<g id="n-SJZ-20" transform="rotate(40.37)"><text class="sjz l" x="-452">SJZ-20</text></g>
<g id="n-SJZ-21" transform="rotate(41.884)"><text class="sjz l" x="-452">SJZ-21</text></g>
<g id="n-SJZ-25" transform="rotate(43.398)"><text class="sjz l" x="-452">SJZ-25</text></g>
<g id="n-SJZ-26" transform="rotate(44.912)"><text class="sjz l" x="-452">SJZ-26</text></g>
<g id="n-SJZ-27" transform="rotate(46.426)"><text class="sjz l" x="-452">SJZ-27</text></g>
<g id="n-SJZ-28" transform="rotate(47.94)"><text class="sjz l" x="-452">SJZ-28</text></g>
<g id="n-SJZ-29" transform="rotate(49.454)"><text class="sjz l" x="-452">SJZ-29</text></g>
<g id="n-SJZ-30" transform="rotate(50.968)"><text class="sjz l" x="-452">SJZ-30</text></g>
<g id="n-ZJ-2" transform="rotate(52.482)"><text class="zj l" x="-452">ZJ-2</text></g>
<g id="n-ZJ-4" transform="rotate(53.996)"><text class="zj l" x="-452">ZJ-4</text></g>
<g id="n-ZJ-11" transform="rotate(55.51)"><text class="zj l" x="-452">ZJ-11</text></g>
<g id="n-ZJ-14" transform="rotate(57.024)"><text class="zj l" x="-452">ZJ-14</text></g>
<g id="n-ZJ-18" transform="rotate(58.538)"><text class="zj l" x="-452">ZJ-18</text></g>
<g id="n-ZJ-19" transform="rotate(60.052)"><text class="zj l" x="-452">ZJ-19</text></g>
<g id="n-ZJ-22" transform="rotate(61.566)"><text class="zj l" x="-452">ZJ-22</text></g>
<g id="n-LS-1" transform="rotate(63.08)"><text class="ls l" x="-452">LS-1</text></g>
<g id="n-LS-7" transform="rotate(64.594)"><text class="ls l" x="-452">LS-7</text></g>
<g id="n-LS-9" transform="rotate(66.108)"><text class="ls l" x="-452">LS-9</text></g>
<g id="n-LS-10" transform="rotate(67.622)"><text class="ls l" x="-452">LS-10</text></g>
<g id="n-LS-12" transform="rotate(69.136)"><text class="ls l" x="-452">LS-12</text></g>
<g id="n-LS-13" transform="rotate(70.65)"><text class="ls l" x="-452">LS-13</text></g>
<g id="n-LS-18" transform="rotate(72.164)"><text class="ls l" x="-452">LS-18</text></g>
<g id="n-LS-22" transform="rotate(73.678)"><text class="ls l" x="-452">LS-22</text></g>
<g id="n-LS-23" transform="rotate(75.192)"><text class="ls l" x="-452">LS-23</text></g>
<g id="n-LS-24" transform="rotate(76.706)"><text class="ls l" x="-452">LS-24</text></g>
<g id="n-ZJ-29" transform="rotate(78.22)"><text class="zj l" x="-452">ZJ-29</text></g>
</g>
<g id="legend">
<rect x="945.5" y="797.5" width="69" height="151" rx="5" fill="#fff" stroke="#999"/>
<text x="983" y="810" text-anchor="middle" style="font-family:'Liberation Serif',serif;font-size:13px;font-weight:bold;fill:#000">bootstrap</text>
<line x1="954" y1="819" x2="1011" y2="819" stroke="#666"/>
<circle cx="962" cy="845" r="2" fill="#c5c5f3"/><text class="lg" x="976" y="845">0</text>
<circle cx="962" cy="866" r="3" fill="#c5c5f3"/><text class="lg" x="976" y="866">0.25</text>
<circle cx="962" cy="888" r="4.5" fill="#c5c5f3"/><text class="lg" x="976" y="888">0.5</text>
<circle cx="962" cy="910" r="5.5" fill="#c5c5f3"/><text class="lg" x="976" y="910">0.75</text>
<circle cx="962" cy="932" r="7" fill="#c5c5f3"/><text class="lg" x="976" y="932">1</text>
</g>
<g id="scale">
<text x="775" y="975" style="font-family:'Liberation Sans',Arial,sans-serif;font-size:15.5px;font-weight:bold;fill:#333;dominant-baseline:central">Tree scale: 0.001</text>
<path d="M930 975H1003M930 971V979M966.5 972V978M1003 971V979" stroke="#333" fill="none"/>
</g>
</svg>
